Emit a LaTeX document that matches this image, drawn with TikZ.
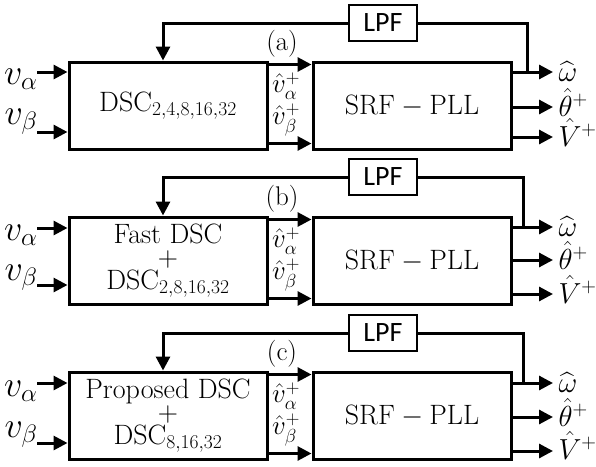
\RequirePackage{fix-cm}
\documentclass[tikz,border=0pt]{standalone}
\usepackage{amsmath}
\usepackage{fontspec}
\newfontfamily\lpffont{Carlito}
\usetikzlibrary{arrows.meta}

\begin{document}
\begin{tikzpicture}[x=1pt, y=-1pt, line width=3pt,
    blk/.style={draw=black, line width=3pt, minimum width=198pt, minimum height=87pt, inner sep=0pt, align=center, font=\fontsize{28}{23}\selectfont},
    lpf/.style={draw=black, line width=2.5pt, minimum width=68pt, minimum height=36pt, inner sep=0pt, font=\lpffont\fontsize{28}{30}\selectfont},
    arr/.style={-{Triangle[length=14pt,width=14pt]}, line width=3pt},
    inlbl/.style={inner sep=0pt, font=\fontsize{36}{40}\selectfont},
    outlbl/.style={inner sep=0pt, font=\fontsize{29}{32}\selectfont},
    midlbl/.style={inner sep=0pt, font=\fontsize{27}{30}\selectfont},
    tag/.style={inner sep=0pt, font=\fontsize{27}{30}\selectfont}]
    % picture size
    \useasboundingbox (0,0) rectangle (596,466);

    % Panel (a)
    \begin{scope}[shift={(0,0)}]
        \node[blk] (DSCa) at (168,105.5) {$\mathrm{DSC}_{2,4,8,16,32}$};
        \node[blk] (SRFa) at (412,105.5) {$\mathrm{SRF}-\mathrm{PLL}$};
        \node[lpf] (LPFa) at (383,23) {LPF};
        \node[tag] (taga) at (282,44) {(a)};
        % inputs
        \coordinate (ina1) at (37,72);
        \coordinate (ina2) at (37,132);
        \node[inlbl, anchor=base east] (vaa) at (39,84) {$v_\alpha$};
        \node[inlbl, anchor=base east] (vba) at (39,124) {$v_\beta$};
        \draw[arr] (ina1) -- (ina1 -| DSCa.west);
        \draw[arr] (ina2) -- (ina2 -| DSCa.west);
        % DSC to SRF
        \draw[arr] ([yshift=-4pt]DSCa.north east) -- ([yshift=-4pt]DSCa.north east -| SRFa.west);
        \draw[arr] ([yshift=7pt]DSCa.south east) -- ([yshift=7pt]DSCa.south east -| SRFa.west);
        \node[midlbl] (haa) at (286,86) {$\hat{v}_\alpha^+$};
        \node[midlbl] (hba) at (286,120) {$\hat{v}_\beta^+$};
        % outputs
        \coordinate (oa1) at (553,72);
        \coordinate (oa2) at (553,107);
        \coordinate (oa3) at (553,137);
        \draw[arr] (oa1 -| SRFa.east) -- (oa1);
        \draw[arr] (oa2 -| SRFa.east) -- (oa2);
        \draw[arr] (oa3 -| SRFa.east) -- (oa3);
        \node[outlbl, anchor=base west] (wa) at (557,81) {$\widehat{\omega}$};
        \node[outlbl, anchor=base west] (ta) at (557,116) {$\hat{\theta}^+$};
        \node[outlbl, anchor=base west] (Va) at (557,146) {$\hat{V}^+$};
        % feedback through LPF
        \coordinate (tapa) at (527,72);
        \draw (tapa) |- (LPFa.east);
        \draw[arr] (LPFa.west) -| ([xshift=-5pt]DSCa.north);
    \end{scope}

    % Panel (b)
    \begin{scope}[shift={(0,155)}]
        \node[blk] (DSCb) at (168,105.5) {Fast DSC\\$+$\\$\mathrm{DSC}_{2,8,16,32}$};
        \node[blk] (SRFb) at (412,105.5) {$\mathrm{SRF}-\mathrm{PLL}$};
        \node[lpf] (LPFb) at (383,22) {LPF};
        \node[tag] (tagb) at (282,44) {(b)};
        % inputs
        \coordinate (inb1) at (37,73);
        \coordinate (inb2) at (37,130);
        \node[inlbl, anchor=base east] (vab) at (39,85) {$v_\alpha$};
        \node[inlbl, anchor=base east] (vbb) at (39,125) {$v_\beta$};
        \draw[arr] (inb1) -- (inb1 -| DSCb.west);
        \draw[arr] (inb2) -- (inb2 -| DSCb.west);
        % DSC to SRF
        \draw[arr] ([yshift=-4pt]DSCb.north east) -- ([yshift=-4pt]DSCb.north east -| SRFb.west);
        \draw[arr] ([yshift=7pt]DSCb.south east) -- ([yshift=7pt]DSCb.south east -| SRFb.west);
        \node[midlbl] (hab) at (286,86) {$\hat{v}_\alpha^+$};
        \node[midlbl] (hbb) at (286,120) {$\hat{v}_\beta^+$};
        % outputs
        \coordinate (ob1) at (553,72);
        \coordinate (ob2) at (553,105);
        \coordinate (ob3) at (553,139);
        \draw[arr] (ob1 -| SRFb.east) -- (ob1);
        \draw[arr] (ob2 -| SRFb.east) -- (ob2);
        \draw[arr] (ob3 -| SRFb.east) -- (ob3);
        \node[outlbl, anchor=base west] (wb) at (557,81) {$\widehat{\omega}$};
        \node[outlbl, anchor=base west] (tb) at (557,114) {$\hat{\theta}^+$};
        \node[outlbl, anchor=base west] (Vb) at (557,148) {$\hat{V}^+$};
        % feedback through LPF
        \coordinate (tapb) at (523,72);
        \draw (tapb) |- (LPFb.east);
        \draw[arr] (LPFb.west) -| ([xshift=-5pt]DSCb.north);
    \end{scope}

    % Panel (c)
    \begin{scope}[shift={(0,310)}]
        \node[blk] (DSCc) at (168,105.5) {Proposed DSC\\$+$\\$\mathrm{DSC}_{8,16,32}$};
        \node[blk] (SRFc) at (412,105.5) {$\mathrm{SRF}-\mathrm{PLL}$};
        \node[lpf] (LPFc) at (383,23) {LPF};
        \node[tag] (tagc) at (282,44) {(c)};
        % inputs
        \coordinate (inc1) at (37,73);
        \coordinate (inc2) at (37,133);
        \node[inlbl, anchor=base east] (vac) at (39,86) {$v_\alpha$};
        \node[inlbl, anchor=base east] (vbc) at (39,127) {$v_\beta$};
        \draw[arr] (inc1) -- (inc1 -| DSCc.west);
        \draw[arr] (inc2) -- (inc2 -| DSCc.west);
        % DSC to SRF
        \draw[arr] ([yshift=-4pt]DSCc.north east) -- ([yshift=-4pt]DSCc.north east -| SRFc.west);
        \draw[arr] ([yshift=7pt]DSCc.south east) -- ([yshift=7pt]DSCc.south east -| SRFc.west);
        \node[midlbl] (hac) at (286,86) {$\hat{v}_\alpha^+$};
        \node[midlbl] (hbc) at (286,120) {$\hat{v}_\beta^+$};
        % outputs
        \coordinate (oc1) at (553,73);
        \coordinate (oc2) at (553,107);
        \coordinate (oc3) at (553,141);
        \draw[arr] (oc1 -| SRFc.east) -- (oc1);
        \draw[arr] (oc2 -| SRFc.east) -- (oc2);
        \draw[arr] (oc3 -| SRFc.east) -- (oc3);
        \node[outlbl, anchor=base west] (wc) at (557,82) {$\widehat{\omega}$};
        \node[outlbl, anchor=base west] (tc) at (557,116) {$\hat{\theta}^+$};
        \node[outlbl, anchor=base west] (Vc) at (557,149) {$\hat{V}^+$};
        % feedback through LPF
        \coordinate (tapc) at (523,73);
        \draw (tapc) |- (LPFc.east);
        \draw[arr] (LPFc.west) -| ([xshift=-5pt]DSCc.north);
    \end{scope}
\end{tikzpicture}
\end{document}
